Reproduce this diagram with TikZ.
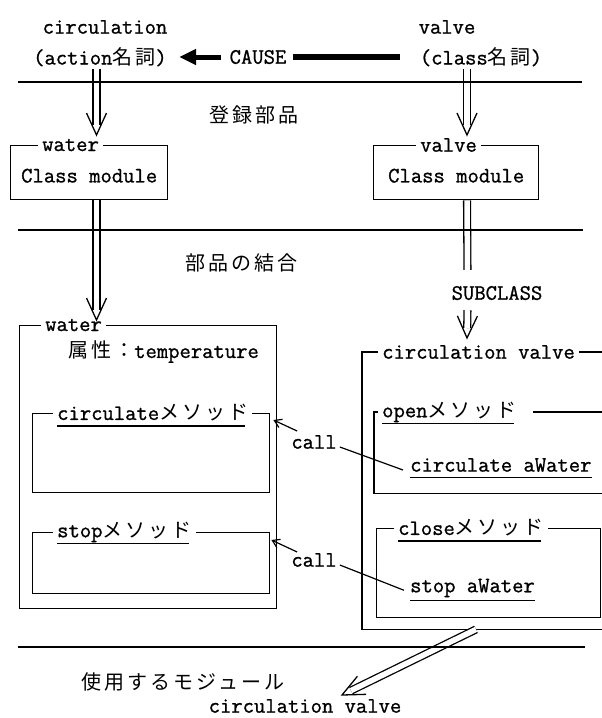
\documentclass[tikz,border=0pt]{standalone}
\usepackage{fontspec}
\setmonofont{Latin Modern Mono}[FakeBold=1.0]
\newfontfamily\jp{Noto Sans CJK JP}[LetterSpace=15]
\usetikzlibrary{calc,arrows.meta}
\newcommand\J[1]{{\jp\fontsize{20}{24}\selectfont #1}}
\newcommand\dblarrow[2]{%
  \draw[dshaft] (#1) -- ($(#2)!10pt!(#1)$);
  \draw[dhead] ($(#2)!22pt!(#1)!10pt!90:(#1)$) -- (#2) -- ($(#2)!22pt!(#1)!10pt!-90:(#1)$);
}
\tikzset{
 txt/.style={inner sep=0pt, font=\ttfamily\fontsize{22}{26}\selectfont},
 jtxt/.style={inner sep=0pt, font=\jp\fontsize{20}{24}\selectfont},
 box/.style={draw, line width=1.4pt, rectangle, anchor=north west, inner sep=0pt},
 openbox/.style={rectangle, anchor=north west, inner sep=0pt},
 boxline/.style={line width=1.4pt},
 ttl/.style={txt, fill=white, inner xsep=4pt, inner ysep=1pt, anchor=west},
 ul/.style={line width=1.3pt},
 sepline/.style={line width=1.3pt},
 dshaft/.style={line width=1.3pt, double, double distance=5.5pt},
 dhead/.style={line width=1.3pt, line join=miter},
 callarrow/.style={line width=1.2pt, -{Straight Barb[length=7pt,width=9pt]}},
 callline/.style={line width=1.2pt},
}
\begin{document}
\begin{tikzpicture}[x=1pt,y=-1pt]
\fill[white] (0,0) rectangle (602,718);
\useasboundingbox (0,0) rectangle (602,718);

% top row
\node[txt] (circ) at (105,27) {circulation};
\node[txt] (act) at (100,57) {(action\J{名詞})};
\node[txt] (cause) at (258,57) {CAUSE};
\node[txt] (valve) at (447,27) {valve};
\node[txt] (cls) at (481,57) {(class\J{名詞})};
\draw[line width=5pt, -{Triangle[length=17pt,width=15pt]}, shorten <=8pt, shorten >=12pt] (cause.west) -- (act.east);
\draw[line width=6pt, shorten <=6pt, shorten >=20pt] (cause.east) -- (cls.west);

% section labels
\node[jtxt] (reg) at (254,115) {登録部品};
\node[jtxt] (comb) at (241,263) {部品の結合};
\node[jtxt] (use) at (183,682) {使用するモジュール};

% class modules
\node[box, minimum width=157pt, minimum height=54pt] (wcls) at (10,145) {};
\node[ttl] (wclst) at ($(wcls.north west)+(28,0)$) {water};
\node[txt] (wclsb) at ($(wcls.center)+(0,3)$) {Class module};
\node[box, minimum width=165pt, minimum height=54pt] (vcls) at (373,145) {};
\node[ttl] (vclst) at ($(vcls.north west)+(43,0)$) {valve};
\node[txt] (vclsb) at ($(vcls.center)+(0,3)$) {Class module};

\node[txt] (sub) at (497,293) {SUBCLASS};

% water big box
\node[box, minimum width=257pt, minimum height=283pt] (wbig) at (19,325) {};
\node[ttl] (wbigt) at ($(wbig.north west)+(22,0)$) {water};
\node[txt, anchor=west] (attr) at (68,352) {\J{属性：}temperature};

\node[box, minimum width=237pt, minimum height=79pt] (cbox) at (32,413) {};
\node[ttl] (ctl) at ($(cbox.north west)+(21,0)$) {circulate\J{メソッド}};
\draw[ul] ($(ctl.base west)+(4,6)$) -- ($(ctl.base east)+(-7,6)$);

\node[box, minimum width=237pt, minimum height=61pt] (sbox) at (32,532) {};
\node[ttl] (stl) at ($(sbox.north west)+(21,0)$) {stop\J{メソッド}};
\draw[ul] ($(stl.base west)+(4,6)$) -- ($(stl.base east)+(-7,6)$);

% circulation valve box
\node[openbox, minimum width=240pt, minimum height=277pt] (cv) at (362,352) {};
\draw[boxline] (cv.north east) -| (cv.south west) -- (cv.south east);
\node[ttl] (cvt) at ($(cv.north west)+(16,0)$) {circulation valve};

\node[openbox, minimum width=228pt, minimum height=81pt] (ob) at (374,412) {};
\draw[boxline] (ob.north east) -| (ob.south west) -- (ob.south east);
\node[ttl] (obt) at ($(ob.north west)+(4,0)$) {open\J{メソッド}\hspace*{12pt}};
\draw[ul] ($(obt.base west)+(4,6)$) -- ($(obt.base east)+(-19,6)$);
\node[txt, anchor=west] (caw) at (410,465) {circulate aWater};
\draw[ul] ($(caw.base west)+(0,6)$) -- ($(caw.base east)+(0,6)$);

\node[box, minimum width=224pt, minimum height=89pt] (clb) at (376,528) {};
\node[ttl] (clt) at ($(clb.north west)+(18,0)$) {close\J{メソッド}};
\draw[ul] ($(clt.base west)+(4,6)$) -- ($(clt.base east)+(-7,6)$);
\node[txt, anchor=west] (saw) at (410,588) {stop aWater};
\draw[ul] ($(saw.base west)+(0,8)$) -- ($(saw.base east)+(0,8)$);

% calls
\node[txt] (call1) at (314,442) {call};
\node[txt] (call2) at (314,560) {call};
\draw[callarrow] ($(call1.north west)+(6,-4)$) -- ($(cbox.north east)+(3,7)$);
\draw[callline] ($(call1.east)+(3,5)$) -- ($(caw.south west)+(-7,-2)$);
\draw[callarrow] ($(call2.north west)+(6,-1)$) -- ($(sbox.north east)+(1,8)$);
\draw[callline] ($(call2.east)+(3,5)$) -- ($(saw.base west)+(-6,-2)$);

% bottom label
\node[txt] (cvl) at (305,706) {circulation valve};

% double arrows
\coordinate (a1s) at ($(act.south)+(-3.5,2)$);
\coordinate (a1t) at ($(wcls.north west)+(86.5,-10)$);
\coordinate (a2s) at ($(cls.south)+(-14,2)$);
\coordinate (a2t) at ($(vcls.north west)+(94,-10)$);
\coordinate (a3s) at ($(wcls.south west)+(86.5,0)$);
\coordinate (a3t) at ($(wbig.north west)+(77.5,-5)$);
\coordinate (a4s) at ($(vcls.south west)+(94,0)$);
\coordinate (a4e) at ($(sub.north west)+(16,-16)$);
\coordinate (a5s) at ($(sub.south west)+(16,10)$);
\coordinate (a5t) at ($(cv.north west)+(105,-14)$);
\coordinate (a6s) at ($(cv.south west)+(114,0)$);
\coordinate (a6t) at ($(cvl.north)+(37,-4)$);
\dblarrow{a1s}{a1t}
\dblarrow{a2s}{a2t}
\dblarrow{a3s}{a3t}
\draw[dshaft] (a4s) -- (a4e);
\dblarrow{a5s}{a5t}
\dblarrow{a6s}{a6t}

% separator lines
\coordinate (l1a) at (18,82); \coordinate (l1b) at (582,82);
\coordinate (l2a) at (18,230); \coordinate (l2b) at (583,230);
\coordinate (l3a) at (18,647); \coordinate (l3b) at (585,647);
\draw[sepline] (l1a) -- (l1b);
\draw[sepline] (l2a) -- (l2b);
\draw[sepline] (l3a) -- (l3b);
\end{tikzpicture}
\end{document}
